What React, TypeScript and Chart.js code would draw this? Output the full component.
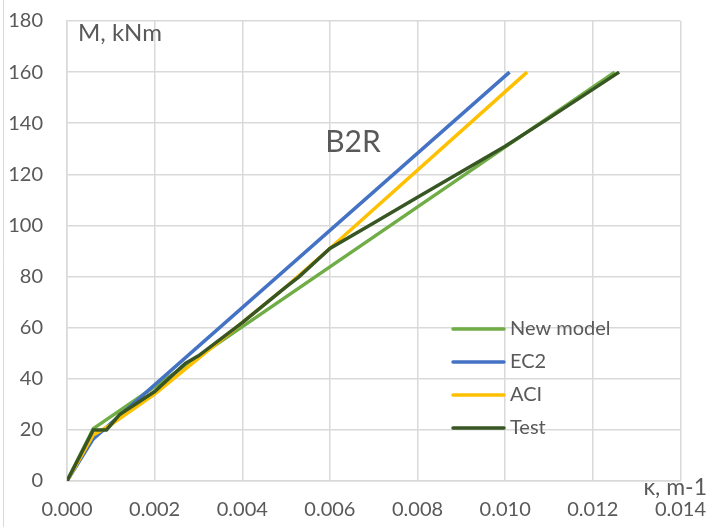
import React, { useEffect, useRef } from "react";
import { Chart, registerables } from "chart.js";

Chart.register(...registerables);

const xTicks = [0, 0.002, 0.004, 0.006, 0.008, 0.01, 0.012, 0.014];
const yTicks = [0, 20, 40, 60, 80, 100, 120, 140, 160, 180];

const newModelK = [0, 0.0006, 0.0125];
const newModelM = [0, 20.5, 160];

const ec2K = [0, 0.0006, 0.0101];
const ec2M = [0, 16.5, 160];

const aciK = [0, 0.0006, 0.001, 0.002, 0.003, 0.004, 0.005, 0.006, 0.0105];
const aciM = [0, 18, 22, 34, 48, 62, 76, 91, 160];

const testK = [0, 0.0006, 0.0009, 0.0012, 0.002, 0.0027, 0.003, 0.004, 0.005, 0.0053, 0.006, 0.007, 0.008, 0.009, 0.01, 0.011, 0.0126];
const testM = [0, 20, 20, 26, 35, 46, 49, 62, 76, 80, 91, 101, 111, 121, 131, 142, 160];

const seriesNames = ["New model", "EC2", "ACI", "Test"];
const seriesColors = ["#70ad47", "#4472c4", "#ffc000", "#375623"];

const FONT = "Lato, 'Open Sans', sans-serif";
const TEXT = "#595959";

const SHIFT_Y = 15;
const CANVAS_W = 723;
const CANVAS_H = 527 + 16;

const pts = (xs: number[], ys: number[]) => xs.map((x, i) => ({ x, y: ys[i] }));

const overlay = {
  id: "overlay",
  afterDatasetsDraw(chart: any) {
    const ctx = chart.ctx;
    const ca = chart.chartArea;
    ctx.save();
    ctx.strokeStyle = "#d9d9d9";
    ctx.lineWidth = 1;
    ctx.beginPath();
    ctx.moveTo(3.5, 0);
    ctx.lineTo(3.5, chart.height);
    ctx.stroke();

    ctx.fillStyle = TEXT;
    ctx.textBaseline = "middle";
    ctx.font = `24px ${FONT}`;
    ctx.textAlign = "left";
    ctx.fillText("M, kNm", ca.left + 11, 33 + SHIFT_Y);
    ctx.font = `23px ${FONT}`;
    ctx.textAlign = "right";
    ctx.fillText("κ, m-1", 707, 488 + SHIFT_Y);

    ctx.font = `30px ${FONT}`;
    ctx.textAlign = "center";
    ctx.fillText("B2R", 353, 142 + SHIFT_Y);

    const ds = chart.data.datasets;
    const ys = [329, 362, 395, 428];
    ctx.font = `20px ${FONT}`;
    ctx.textAlign = "left";
    seriesNames.forEach((name, i) => {
      const y = ys[i] + SHIFT_Y;
      ctx.strokeStyle = ds[i].borderColor;
      ctx.lineWidth = 3.5;
      ctx.lineCap = "round";
      ctx.beginPath();
      ctx.moveTo(453, y);
      ctx.lineTo(504, y);
      ctx.stroke();
      ctx.fillStyle = TEXT;
      ctx.fillText(name, 510, y);
    });
    ctx.restore();
  },
};

export default function App() {
  const ref = useRef<HTMLCanvasElement>(null);
  useEffect(() => {
    if (!ref.current) return;
    const allData = [pts(newModelK, newModelM), pts(ec2K, ec2M), pts(aciK, aciM), pts(testK, testM)];
    const chart = new Chart(ref.current, {
      type: "scatter",
      data: {
        datasets: allData.map((d, i) => ({
          label: seriesNames[i],
          data: d,
          showLine: true,
          borderColor: seriesColors[i],
          backgroundColor: seriesColors[i],
          borderWidth: 3.5,
          pointRadius: 0,
          tension: 0,
          order: 4 - i,
        })),
      },
      options: {
        animation: false,
        responsive: true,
        maintainAspectRatio: false,
        layout: { padding: { top: 5, right: 19, left: 0, bottom: 0 } },
        plugins: { legend: { display: false }, tooltip: { enabled: false }, title: { display: false } },
        scales: {
          x: {
            type: "linear",
            min: 0,
            max: 0.014,
            afterBuildTicks: (s: any) => {
              s.ticks = xTicks.map((v) => ({ value: v }));
            },
            afterFit: (s: any) => {
              s.height = 47;
            },
            ticks: {
              color: TEXT,
              font: { family: FONT, size: 20 },
              padding: 17,
              maxRotation: 0,
              autoSkip: false,
              callback: (v: any) => Number(v).toFixed(3),
            },
            grid: { color: "#d9d9d9", lineWidth: 1.5, drawTicks: false },
            border: { color: "#d9d9d9", width: 1.5 },
          },
          y: {
            type: "linear",
            min: 0,
            max: 180,
            afterBuildTicks: (s: any) => {
              s.ticks = yTicks.map((v) => ({ value: v }));
            },
            afterFit: (s: any) => {
              s.width = 67;
            },
            ticks: {
              color: TEXT,
              font: { family: FONT, size: 20 },
              padding: 24,
              autoSkip: false,
            },
            grid: { color: "#d9d9d9", lineWidth: 1.5, drawTicks: false },
            border: { color: "#d9d9d9", width: 1.5 },
          },
        },
      },
      plugins: [overlay],
    });
    return () => chart.destroy();
  }, []);
  return (
    <div style={{ position: "fixed", left: 0, top: 0, width: 711, height: 527, overflow: "hidden", background: "#fff" }}>
      <div style={{ position: "absolute", left: 0, top: -SHIFT_Y, width: CANVAS_W, height: CANVAS_H }}>
        <canvas ref={ref} />
      </div>
    </div>
  );
}
